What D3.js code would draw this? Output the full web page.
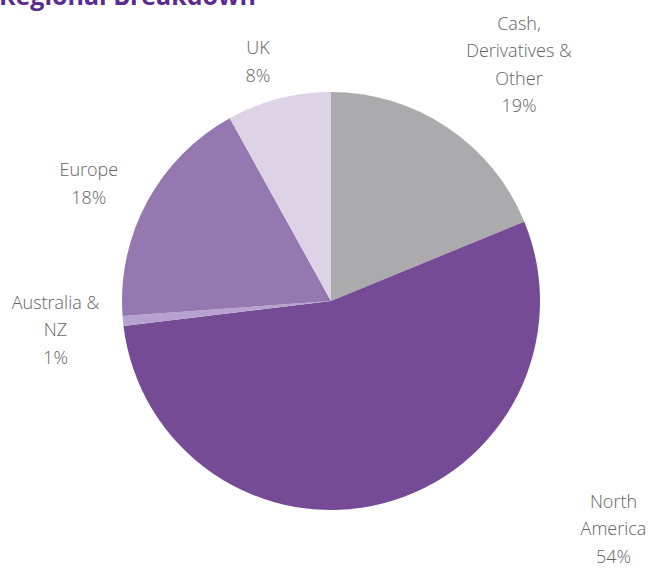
<!DOCTYPE html>
<html>
<head>
<meta charset="utf-8">
<script src="https://cdn.jsdelivr.net/npm/d3@7"></script>
<style>
  body { margin: 0; background: #fff; }
  svg { display: block; }
</style>
</head>
<body>
<div id="chart"></div>
<script>
// slice data, clockwise from 12 o'clock
const regions = ["Cash, Derivatives & Other", "North America", "Australia & NZ", "Europe", "UK"];
const shares = [18.8, 54.3, 0.75, 18.1, 8.05];
const pctLabels = ["19%", "54%", "1%", "18%", "8%"];
const labelLines = [["Cash,", "Derivatives &", "Other"], ["North", "America"], ["Australia &", "NZ"], ["Europe"], ["UK"]];
const colors = ["#ababad", "#754b96", "#b7a1cf", "#9678b0", "#dcd3e7"];

function init() {
    let w = 649;
    let h = 569;
    let cx = 331, cy = 301, r = 209;

    let svg = d3.select("#chart")
        .append("svg")
        .attr("width", w)
        .attr("height", h);

    // title, cut off at the top like the source
    svg.append("text")
        .attr("x", -1)
        .attr("y", 5)
        .attr("font-family", "'Open Sans', sans-serif")
        .attr("font-weight", "bold")
        .attr("font-size", 25)
        .attr("fill", "#5b2c8f")
        .text("Regional Breakdown");

    let pie = d3.pie().sort(null).value(d => d);
    let arc = d3.arc().innerRadius(0).outerRadius(r);
    let arcs = pie(shares);

    let g = svg.append("g").attr("transform", `translate(${cx},${cy})`);

    g.selectAll("path")
        .data(arcs)
        .enter()
        .append("path")
        .attr("d", arc)
        .attr("fill", (d, i) => colors[i]);

    // label anchor (angle deg clockwise from top, distance) - placed like the source chart
    let labelPolar = [[38.5, 302], [128.9, 363], [264, 277], [295.8, 269], [343, 250]];
    let lineH = 27.5;

    arcs.forEach(function (d, i) {
        let a = labelPolar[i][0] * Math.PI / 180;
        let x = cx + Math.sin(a) * labelPolar[i][1];
        let y = cy - Math.cos(a) * labelPolar[i][1];
        let lines = labelLines[i].concat([pctLabels[i]]);
        let top = y - (lines.length - 1) * lineH / 2;
        let t = svg.append("text")
            .attr("text-anchor", "middle")
            .attr("font-family", "'Open Sans', sans-serif")
            .attr("font-weight", 300)
            .attr("font-size", 18)
            .attr("fill", "#636363");
        lines.forEach(function (s, k) {
            t.append("tspan")
                .attr("x", x)
                .attr("y", top + k * lineH)
                .attr("dy", "0.35em")
                .text(s);
        });
    });
}

window.onload = init;
</script>
</body>
</html>
